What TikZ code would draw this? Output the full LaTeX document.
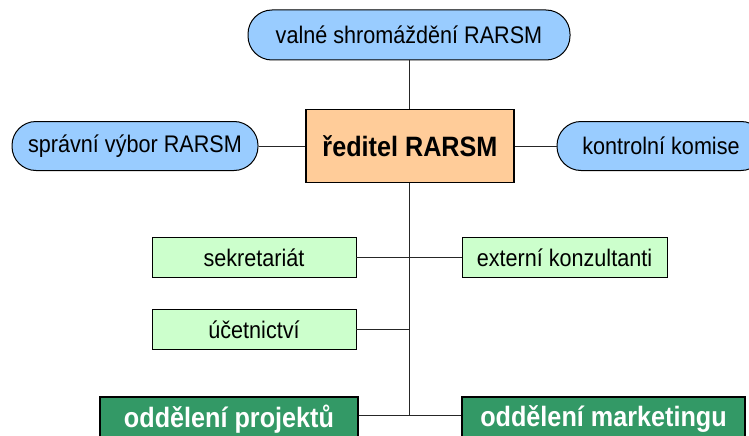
\documentclass[tikz,border=0pt]{standalone}
\usepackage{fontspec}
\setmainfont{Liberation Sans}[FakeStretch=0.9]
\definecolor{ovalblue}{HTML}{99CCFF}
\definecolor{dirorange}{HTML}{FFCC99}
\definecolor{lightgreen}{HTML}{CCFFCC}
\definecolor{darkgreen}{HTML}{339966}
\begin{document}
\begin{tikzpicture}[x=1pt,y=-1pt,
  oval/.style={draw=black,line width=1pt,fill=ovalblue,rounded corners=24pt,inner sep=0pt,
    font=\fontsize{24}{28}\selectfont},
  director/.style={draw=black,line width=1.3pt,fill=dirorange,inner sep=0pt,
    minimum width=208pt,minimum height=73pt,font=\fontsize{28}{32}\selectfont\bfseries},
  unit/.style={draw=black,line width=0.8pt,fill=lightgreen,inner sep=0pt,
    minimum width=204pt,minimum height=40pt,font=\fontsize{24}{28}\selectfont},
  dept/.style={draw=black,line width=1.3pt,fill=darkgreen,text=white,inner sep=0pt,
    minimum height=44pt,font=\fontsize{28}{32}\selectfont\bfseries},
  link/.style={draw=black!85,line width=1pt}]
\useasboundingbox (0,0) rectangle (749,436);
\node[oval,minimum width=322pt,minimum height=50pt] (gm) at (409,35) {valné shromáždění RARSM};
\node[oval,minimum width=246pt,minimum height=49pt] (sv) at (135,146) {správní výbor RARSM};
\node[oval,minimum width=208pt,minimum height=49pt] (kk) at (661,146) {kontrolní komise};
\node[director] (dir) at (410,146) {ředitel RARSM};
\node[unit] (sek) at (254,257.5) {sekretariát};
\node[unit,minimum width=205pt] (ext) at (564.5,257.5) {externí konzultanti};
\node[unit] (uct) at (254,329.5) {účetnictví};
\node[dept,minimum width=258pt] (proj) at (229,419) {oddělení projektů};
\node[dept,minimum width=283pt] (mkt) at (603.5,419) {oddělení marketingu};
\coordinate (jU) at (409,329.5);
\coordinate (jB) at (409,415);
\draw[link] (gm.south -| jB) -- (dir.north -| jB);
\draw[link] (sv.east) -- (dir.west);
\draw[link] (dir.east) -- (kk.west);
\draw[link] (dir.south -| jB) -- (jB);
\draw[link] (sek.east) -- (ext.west);
\draw[link] (uct.east) -- (jU);
\draw[link] (proj.east |- jB) -- (mkt.west |- jB);
\end{tikzpicture}
\end{document}
